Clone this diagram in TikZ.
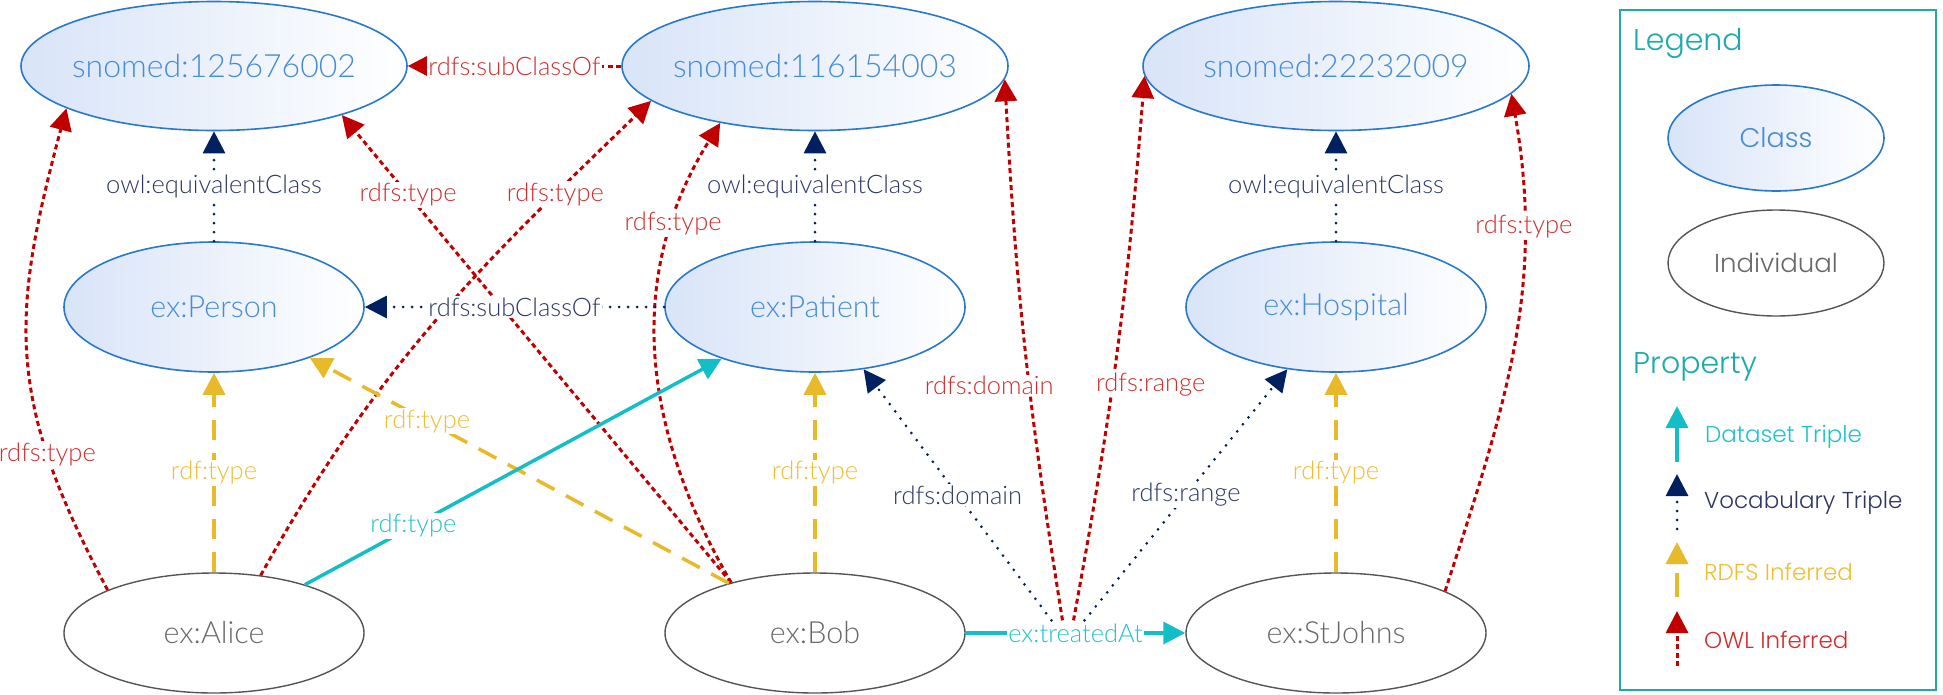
\documentclass[tikz,border=0pt]{standalone}
\usepackage{fontspec}
\usetikzlibrary{arrows.meta,shapes.geometric,calc}
\IfFontExistsTF{Lato Light}{\newfontfamily\seg{Lato Light}}{\newfontfamily\seg{Lato}}
\IfFontExistsTF{Poppins Light}{\newfontfamily\goth{Poppins Light}}{\newfontfamily\goth{Poppins}}
\definecolor{clsStroke}{RGB}{40,120,205}
\definecolor{clsFill}{RGB}{216,228,248}
\definecolor{clsText}{RGB}{70,140,215}
\definecolor{indStroke}{RGB}{85,85,85}
\definecolor{indText}{RGB}{105,105,105}
\definecolor{owlRed}{RGB}{192,0,0}
\definecolor{owlText}{RGB}{210,45,45}
\definecolor{vocNavy}{RGB}{0,32,96}
\definecolor{vocText}{RGB}{45,55,100}
\definecolor{rdfsGold}{RGB}{232,185,40}
\definecolor{rdfsText}{RGB}{240,190,50}
\definecolor{dataTeal}{RGB}{20,190,200}
\definecolor{dataText}{RGB}{30,195,205}
\definecolor{legTeal}{RGB}{30,170,170}
\tikzset{
  zerobox/.style={execute at begin node={\hbox to 0pt\bgroup\hss}, execute at end node={\hss\egroup}},
  clsnode/.style={ellipse, draw=clsStroke, line width=1.6pt, left color=clsFill, right color=white,
    text=clsText, inner sep=0pt, zerobox, minimum width=300pt, minimum height=130pt,
    font=\seg\fontsize{30.5}{32}\selectfont},
  bigcls/.style={clsnode, minimum width=386pt, minimum height=129pt, font=\seg\fontsize{32}{34}\selectfont},
  indnode/.style={ellipse, draw=indStroke, line width=1.4pt, fill=white, text=indText, inner sep=0pt,
    zerobox, minimum width=300pt, minimum height=120pt, font=\seg\fontsize{30.5}{32}\selectfont},
  tip/.style={-{Triangle[length=22pt,width=22pt]}},
  owl/.style={draw=owlRed, line width=3pt, dash pattern=on 5pt off 3.5pt, tip},
  voc/.style={draw=vocNavy, line width=3pt, dash pattern=on 0pt off 9pt, line cap=round, tip},
  rdfs/.style={draw=rdfsGold, line width=3.5pt, dash pattern=on 20pt off 13pt, tip},
  dataset/.style={draw=dataTeal, line width=3.5pt, tip},
  elbl/.style={fill=white, inner sep=1.5pt, font=\seg\fontsize{25.5}{27}\selectfont},
  legtxt/.style={anchor=west, inner sep=0pt, font=\goth\fontsize{23}{25}\selectfont},
}
\begin{document}
\begin{tikzpicture}[x=1pt,y=1pt]
\useasboundingbox (0,0) rectangle (1943,-694);
% class and individual nodes
\node[bigcls] (s1) at (214,-66) {snomed:125676002};
\node[bigcls] (s2) at (815,-66) {snomed:116154003};
\node[bigcls] (s3) at (1336,-66) {snomed:22232009};
\node[clsnode] (person) at (214,-307) {ex:Person};
\node[clsnode] (patient) at (815,-307) {ex:Patient};
\node[clsnode] (hospital) at (1336,-307) {ex:Hospital};
\node[indnode] (alice) at (214,-633) {ex:Alice};
\node[indnode] (bob) at (815,-633) {ex:Bob};
\node[indnode] (stjohns) at (1336,-633) {ex:StJohns};

% OWL inferred
\draw[owl] (alice.158) to[out=118,in=255,looseness=1.15]
  node[elbl,text=owlText,pos=0.27]{rdfs:type} (s1.196);
\draw[owl] (alice.51) to[out=61,in=224]
  node[elbl,text=owlText,pos=0.8]{rdfs:type} (s2.192);
\draw[owl] (bob.149) -- node[elbl,text=owlText,pos=0.83]{rdfs:type} (s1.-21);
\draw[owl] (bob.149) to[out=120,in=238]
  node[elbl,text=owlText,pos=0.78]{rdfs:type} (s2.211);
\draw[owl] (stjohns.21) to[out=72,in=280]
  node[elbl,text=owlText,pos=0.75]{rdfs:type} (s3.-9);
\draw[owl] (s2) -- node[elbl,text=owlText]{rdfs:subClassOf} (s1);

% RDFS inferred
\draw[rdfs] (bob.150) -- node[elbl,text=rdfsText,pos=0.72]{rdf:type} (person.-28);
\draw[rdfs] (alice) -- node[elbl,text=rdfsText]{rdf:type} (person);
\draw[rdfs] (bob) -- node[elbl,text=rdfsText]{rdf:type} (patient);
\draw[rdfs] (stjohns) -- node[elbl,text=rdfsText]{rdf:type} (hospital);

% dataset triples
\draw[dataset] (alice.28) -- node[elbl,text=dataText,pos=0.26]{rdf:type} (patient.209);
\draw[dataset] (bob) -- node[elbl,text=dataText] (ta) {ex:treatedAt} (stjohns);

\coordinate (taNavyL) at ($(ta.north)+(-24,0)$);
\coordinate (taRedL) at ($(ta.north)+(-13,0)$);
\coordinate (taRedR) at ($(ta.north)+(-2,0)$);
\coordinate (taNavyR) at ($(ta.north)+(9,0)$);
\draw[owl] (taRedL) to[bend left=3] node[elbl,text=owlText,pos=0.43,xshift=-40pt]{rdfs:domain} (s2.-4);
\draw[owl] (taRedR) to[bend right=3] node[elbl,text=owlText,pos=0.43,xshift=38pt]{rdfs:range} (s3.183);

% vocabulary triples
\draw[voc] (taNavyL) -- node[elbl,text=vocText]{rdfs:domain} (patient.-52);
\draw[voc] (taNavyR) -- node[elbl,text=vocText]{rdfs:range} (hospital.232);
\draw[voc] (person) -- node[elbl,text=vocText]{owl:equivalentClass} (s1);
\draw[voc] (patient) -- node[elbl,text=vocText]{owl:equivalentClass} (s2);
\draw[voc] (hospital) -- node[elbl,text=vocText]{owl:equivalentClass} (s3);
\draw[voc] (patient) -- node[elbl,text=vocText]{rdfs:subClassOf} (person);

% legend
\node[draw=legTeal, line width=1.5pt, minimum width=316pt, minimum height=680pt, inner sep=0pt] (legbox) at (1778,-350) {};
\node[anchor=west, inner sep=0pt, text=legTeal, font=\goth\fontsize{30}{32}\selectfont] (legtitle) at (1633,-43) {Legend};
\node[clsnode, minimum width=216pt, minimum height=106pt, font=\goth\fontsize{27}{29}\selectfont] (legclass) at (1776,-138) {Class};
\node[indnode, minimum width=216pt, minimum height=106pt, font=\goth\fontsize{26}{28}\selectfont] (legind) at (1776,-263) {Individual};
\node[anchor=west, inner sep=0pt, text=legTeal, font=\goth\fontsize{30}{32}\selectfont] (legprop) at (1633,-367) {Property};

\coordinate (lda) at (1677,-462); \coordinate (ldb) at (1677,-406);
\coordinate (lva) at (1677,-529); \coordinate (lvb) at (1677,-474);
\coordinate (lra) at (1677,-597); \coordinate (lrb) at (1677,-542);
\coordinate (loa) at (1677,-666); \coordinate (lob) at (1677,-611);
\draw[dataset] (lda) -- (ldb);
\draw[voc] (lva) -- (lvb);
\draw[rdfs, dash pattern=on 24pt off 10pt] (lra) -- (lrb);
\draw[owl] (loa) -- (lob);
\node[legtxt, text=dataText] (ldt) at (1705,-437) {Dataset Triple};
\node[legtxt, text=vocText] (lvt) at (1704,-503) {Vocabulary Triple};
\node[legtxt, text=rdfsText] (lrt) at (1704,-572) {RDFS Inferred};
\node[legtxt, text=owlText] (lot) at (1704,-640) {OWL Inferred};
\end{tikzpicture}
\end{document}
